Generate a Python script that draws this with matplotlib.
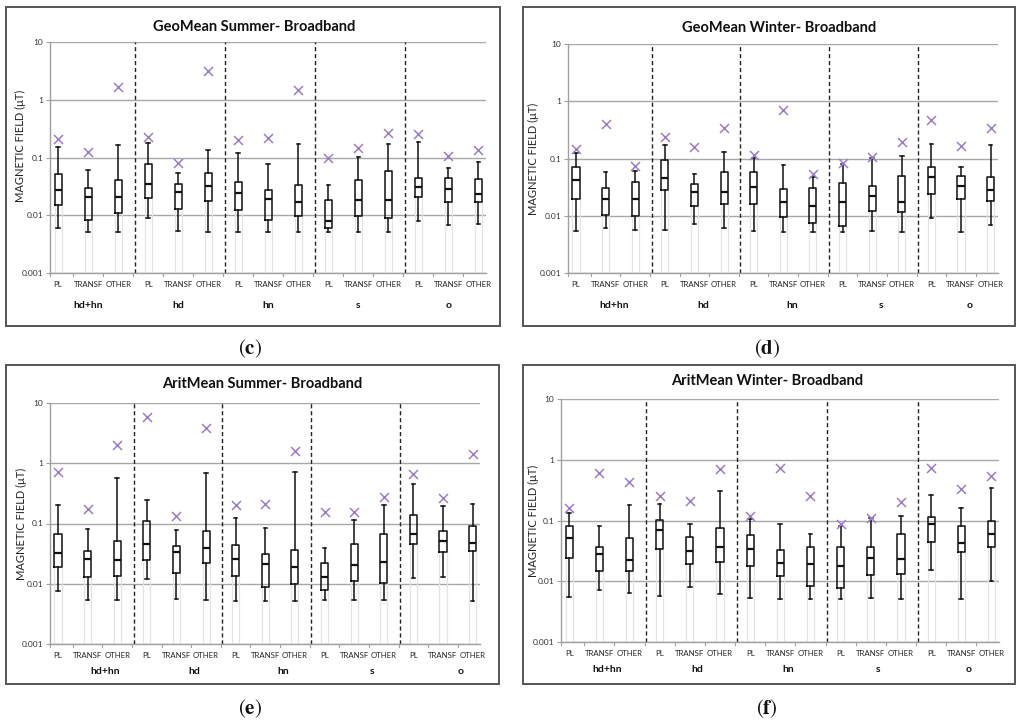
import matplotlib
matplotlib.use("Agg")
import matplotlib.pyplot as plt
from matplotlib.patches import Rectangle

plt.rcParams['font.family'] = ['Lato', 'DejaVu Sans']
plt.rcParams['mathtext.fontset'] = 'stix'

categories = ["PL", "TRANSF", "OTHER"] * 5
groups = ["hd+hn", "hd", "hn", "s", "o"]
titles = ["GeoMean Summer- Broadband", "GeoMean Winter- Broadband",
          "AritMean Summer- Broadband", "AritMean Winter- Broadband"]
panel_letters = ["c", "d", "e", "f"]
ylabel = "MAGNETIC FIELD (\u03bcT)"
yticks = [0.001, 0.01, 0.1, 1, 10]
ytick_labels = ["0.001", "0.01", "0.1", "1", "10"]

# ---- panel (c) GeoMean Summer ----
c_low = [0.0059, 0.0051, 0.0051, 0.0090, 0.0054, 0.0051, 0.0051, 0.0051, 0.0051, 0.0051, 0.0051, 0.0051, 0.0078, 0.0069, 0.0071]
c_q1 = [0.0149, 0.0082, 0.0108, 0.0197, 0.0129, 0.0175, 0.0125, 0.0084, 0.0096, 0.0059, 0.0096, 0.0090, 0.0205, 0.0168, 0.0172]
c_med = [0.0274, 0.0207, 0.0207, 0.0353, 0.0257, 0.0317, 0.0246, 0.0191, 0.0172, 0.0080, 0.0187, 0.0187, 0.0305, 0.0282, 0.0237]
c_q3 = [0.052, 0.030, 0.040, 0.076, 0.0348, 0.0533, 0.0382, 0.0278, 0.0335, 0.0187, 0.0408, 0.0585, 0.0442, 0.0442, 0.043]
c_high = [0.150, 0.0617, 0.163, 0.179, 0.054, 0.137, 0.118, 0.0773, 0.169, 0.0339, 0.102, 0.174, 0.186, 0.0668, 0.0826]
c_max = [0.206, 0.125, 1.66, 0.23, 0.081, 3.19, 0.201, 0.215, 1.46, 0.098, 0.144, 0.262, 0.252, 0.105, 0.135]

# ---- panel (d) GeoMean Winter ----
d_low = [0.0055, 0.0060, 0.0057, 0.0057, 0.0072, 0.0060, 0.0055, 0.0051, 0.0051, 0.0051, 0.0055, 0.0051, 0.0092, 0.0051, 0.0069]
d_q1 = [0.0193, 0.0105, 0.0101, 0.0277, 0.0146, 0.0158, 0.0162, 0.0097, 0.0074, 0.0066, 0.0121, 0.0114, 0.0236, 0.0193, 0.0180]
d_med = [0.0413, 0.0200, 0.0200, 0.0460, 0.0255, 0.0255, 0.0312, 0.0175, 0.0151, 0.0171, 0.0217, 0.0171, 0.0479, 0.0325, 0.0281]
d_q3 = [0.0706, 0.0308, 0.0392, 0.0935, 0.0357, 0.0578, 0.0578, 0.0296, 0.0304, 0.0371, 0.0329, 0.0492, 0.0724, 0.0492, 0.0473]
d_high = [0.1256, 0.057, 0.061, 0.169, 0.0533, 0.131, 0.1027, 0.0765, 0.0473, 0.0786, 0.104, 0.110, 0.180, 0.0706, 0.169]
d_max = [0.1455, 0.397, 0.0735, 0.239, 0.158, 0.343, 0.114, 0.706, 0.0547, 0.085, 0.108, 0.193, 0.479, 0.166, 0.343]

# ---- panel (e) AritMean Summer ----
e_low = [0.0077, 0.0054, 0.0053, 0.0118, 0.0056, 0.0053, 0.0052, 0.0052, 0.0052, 0.0053, 0.0053, 0.0054, 0.0123, 0.0127, 0.0052]
e_q1 = [0.0191, 0.0131, 0.0136, 0.0244, 0.0152, 0.0223, 0.0136, 0.0090, 0.0099, 0.0079, 0.0111, 0.0104, 0.0454, 0.0339, 0.0352]
e_med = [0.0330, 0.0260, 0.0250, 0.0449, 0.0335, 0.0395, 0.0260, 0.0214, 0.0191, 0.0127, 0.0206, 0.0226, 0.0674, 0.0516, 0.0478]
e_q3 = [0.0674, 0.0348, 0.051, 0.111, 0.0416, 0.0746, 0.0443, 0.0306, 0.037, 0.0223, 0.0449, 0.0665, 0.136, 0.0746, 0.0915]
e_high = [0.206, 0.0796, 0.578, 0.247, 0.0766, 0.683, 0.124, 0.0838, 0.728, 0.0385, 0.1164, 0.206, 0.454, 0.196, 0.214]
e_max = [0.71, 0.171, 2.04, 5.78, 0.134, 3.85, 0.206, 0.212, 1.60, 0.156, 0.156, 0.28, 0.657, 0.263, 1.45]

# ---- panel (f) AritMean Winter ----
f_low = [0.0055, 0.0071, 0.0063, 0.0057, 0.0079, 0.0062, 0.0054, 0.0052, 0.0052, 0.0052, 0.0054, 0.0052, 0.0151, 0.0052, 0.0101]
f_q1 = [0.0241, 0.0146, 0.0146, 0.0340, 0.0192, 0.0207, 0.0178, 0.0121, 0.0085, 0.0077, 0.0128, 0.0130, 0.0449, 0.0307, 0.0366]
f_med = [0.0515, 0.0284, 0.0227, 0.0689, 0.0319, 0.0366, 0.0344, 0.0200, 0.0192, 0.0180, 0.0241, 0.0232, 0.0887, 0.0421, 0.0607]
f_q3 = [0.0822, 0.0366, 0.0508, 0.103, 0.0542, 0.0762, 0.0577, 0.0327, 0.0361, 0.037, 0.0361, 0.060, 0.114, 0.0822, 0.0993]
f_high = [0.1346, 0.0802, 0.18, 0.184, 0.0875, 0.31, 0.1045, 0.0875, 0.0592, 0.0822, 0.1086, 0.12, 0.259, 0.158, 0.343]
f_max = [0.16, 0.605, 0.436, 0.25, 0.207, 0.695, 0.1186, 0.723, 0.256, 0.0875, 0.111, 0.199, 0.723, 0.33, 0.533]

panels_data = [
    (c_low, c_q1, c_med, c_q3, c_high, c_max),
    (d_low, d_q1, d_med, d_q3, d_high, d_max),
    (e_low, e_q1, e_med, e_q3, e_high, e_max),
    (f_low, f_q1, f_med, f_q3, f_high, f_max),
]

W, H = 1024, 722
fig = plt.figure(figsize=(W / 100, H / 100), dpi=100)

# layout in pixels
axes_px = [(50, 42, 486, 273), (568, 44, 998, 273), (50, 403, 480, 644), (561, 399, 999, 642)]
frames_px = [(6, 7, 500, 326), (523, 7, 1015, 326), (6, 365, 499, 684), (523, 365, 1015, 684)]
title_px = [(254, 27), (779, 28), (262, 384), (767, 381)]
letter_px = [(250, 349), (767, 349), (250, 709), (767, 709)]
ylabel_x = [-0.055, -0.067, -0.053, -0.05]
ylabel_y = [0.55, 0.5, 0.5, 0.5]
group_shift = [0.0, 0.3, 0.6, 0.25]
group_pad = [32, 32, 27, 27]

box_w = 0.24
marker_color = "#9b7fc6"

for k in range(4):
    x0, y0, x1, y1 = axes_px[k]
    ax = fig.add_axes([x0 / W, 1 - y1 / H, (x1 - x0) / W, (y1 - y0) / H])
    low, q1, med, q3, high, mx = panels_data[k]
    pos = list(range(len(categories)))

    # faint column outlines behind the boxes (from axis bottom to Q1)
    ax.bar(pos, [q - 0.001 for q in q1], bottom=0.001, width=box_w,
           facecolor="none", edgecolor="#e4e4e4", linewidth=0.9, zorder=1)

    stats = [dict(whislo=low[i], q1=q1[i], med=med[i], q3=q3[i], whishi=high[i], fliers=[])
             for i in pos]
    ax.bxp(stats, positions=pos, widths=box_w, capwidths=0.12, showfliers=False,
           boxprops=dict(color="#111111", linewidth=1.1),
           whiskerprops=dict(color="#111111", linewidth=1.1),
           capprops=dict(color="#111111", linewidth=1.1),
           medianprops=dict(color="#111111", linewidth=1.6),
           manage_ticks=False, zorder=3)

    ax.scatter(pos, mx, marker="x", s=42, color=marker_color, linewidths=1.1, zorder=4)

    ax.set_yscale("log")
    ax.set_ylim(0.001, 10)
    ax.set_xlim(-0.27, 14.25)
    ax.set_yticks(yticks)
    ax.set_yticklabels(ytick_labels)
    ax.minorticks_off()
    ax.yaxis.grid(True, color="#a8a8a8", linewidth=1.0)
    ax.set_axisbelow(True)
    for sp in ["top", "right"]:
        ax.spines[sp].set_visible(False)
    ax.spines["left"].set_color("#a0a0a0")
    ax.spines["bottom"].set_color("#a0a0a0")
    ax.spines["left"].set_linewidth(1.0)
    ax.spines["bottom"].set_linewidth(1.0)
    ax.tick_params(axis="y", labelsize=6, labelcolor="#333333", color="#a0a0a0",
                   length=3, width=0.8, pad=2)

    ax.set_xticks(pos)
    ax.set_xticklabels(categories, fontsize=5.6, color="#222222")
    ax.tick_params(axis="x", length=0, pad=6)
    # small tick marks on x axis between categories
    for b in [p + 0.5 for p in pos[:-1]] + [-0.27]:
        ax.plot([b, b], [0, -0.012], transform=ax.get_xaxis_transform(),
                color="#a0a0a0", linewidth=0.8, clip_on=False)

    ax.set_ylabel(ylabel, fontsize=8, color="#222222")
    ax.yaxis.set_label_coords(ylabel_x[k], ylabel_y[k])

    # dashed separators between groups
    for g in range(1, 5):
        ax.axvline(g * 3 - 0.45, color="#222222", linestyle=(0, (3, 2)), linewidth=1.0, zorder=2)

    # group labels
    for g, name in enumerate(groups):
        ax.annotate(name, xy=(g * 3 + 1 + group_shift[k], 0), xycoords=("data", "axes fraction"),
                    xytext=(0, -group_pad[k] * 0.72), textcoords="offset points",
                    ha="center", va="center", fontsize=7.5, fontweight="bold", color="#111111")

    # frame
    fx0, fy0, fx1, fy1 = frames_px[k]
    fig.add_artist(Rectangle((fx0 / W, 1 - fy1 / H), (fx1 - fx0) / W, (fy1 - fy0) / H,
                             transform=fig.transFigure, fill=False, edgecolor="#555555", linewidth=1.4))
    tx, ty = title_px[k]
    fig.text(tx / W, 1 - ty / H, titles[k], ha="center", va="center", fontsize=10.5,
             fontweight="bold", color="#111111")
    lx, ly = letter_px[k]
    fig.text(lx / W, 1 - ly / H, r"$(\mathbf{" + panel_letters[k] + "})$", ha="center", va="center",
             fontsize=15, color="#111111")

fig.savefig("out.png", dpi=100, facecolor="white")
